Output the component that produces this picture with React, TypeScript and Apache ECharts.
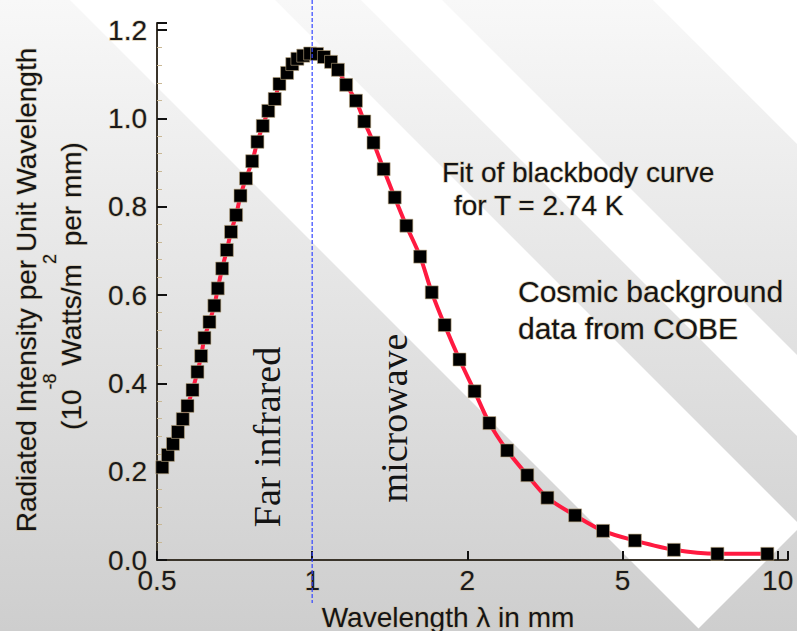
import React, { useEffect, useRef } from 'react';
import * as echarts from 'echarts';

// ---------- data ----------
const tickWavelengths = [0.5, 1, 2, 5, 10];
const tickLabels = ['0.5', '1', '2', '5', '10'];
const yTickLabels = ['0.0', '0.2', '0.4', '0.6', '0.8', '1.0', '1.2'];

// COBE measurements (wavelength in mm, intensity in 1e-8 W/m^2 per mm)
const wavelengthsMm = [
  0.512, 0.525, 0.537, 0.549, 0.561, 0.573, 0.586, 0.599, 0.609, 0.618,
  0.632, 0.646, 0.656, 0.669, 0.683, 0.696, 0.712, 0.726, 0.744, 0.765,
  0.783, 0.802, 0.822, 0.846, 0.864, 0.894, 0.915, 0.936, 0.961, 0.991,
  1.022, 1.054, 1.088, 1.122, 1.164, 1.216, 1.262, 1.315, 1.376, 1.446,
  1.523, 1.62, 1.706, 1.807, 1.931, 2.087, 2.278, 2.53, 2.85, 3.209,
  3.779, 4.457, 5.284, 6.29, 7.639, 9.547,
];
const intensities = [
  0.21, 0.238, 0.263, 0.29, 0.319, 0.349, 0.385, 0.426, 0.462, 0.503,
  0.539, 0.576, 0.615, 0.66, 0.702, 0.743, 0.781, 0.825, 0.864, 0.903,
  0.947, 0.983, 1.017, 1.044, 1.078, 1.103, 1.123, 1.135, 1.142, 1.147,
  1.146, 1.139, 1.128, 1.11, 1.076, 1.04, 0.993, 0.945, 0.885, 0.821,
  0.757, 0.687, 0.606, 0.532, 0.454, 0.382, 0.31, 0.248, 0.192, 0.141,
  0.101, 0.066, 0.044, 0.023, 0.014, 0.014,
];

const boundaryWavelength = 1;
const yTitleLine1 = 'Radiated Intensity per Unit Wavelength';
const yTitleLine2 = [
  { text: '(10', sup: false },
  { text: '-8', sup: true },
  { text: ' Watts/m', sup: false },
  { text: '2', sup: true },
  { text: ' per mm)', sup: false },
];
const xTitle = 'Wavelength \u03bb in mm';
const fitNote = ['Fit of blackbody curve', 'for T = 2.74 K'];
const dataNote = ['Cosmic background', 'data from COBE'];
const regionLabels = ['Far infrared', 'microwave'];

const SANS = '"Liberation Sans", Arial, Helvetica, sans-serif';
const SERIF = '"Liberation Serif", "Times New Roman", Times, serif';
const HALO = 'rgba(200,178,136,0.55)';

// axis scale: ticks 0.5,1,2,5,10 equally spaced, log interpolation between ticks
function toAxis(l: number): number {
  const n = tickWavelengths.length;
  for (let i = 0; i < n - 1; i++) {
    const a = tickWavelengths[i];
    const b = tickWavelengths[i + 1];
    if (l <= b || i === n - 2) return i + Math.log(l / a) / Math.log(b / a);
  }
  return 0;
}

function measure(text: string, font: string): number {
  const c = document.createElement('canvas').getContext('2d');
  if (!c) return text.length * 14;
  c.font = font;
  return c.measureText(text).width;
}

export default function App() {
  const ref = useRef<HTMLDivElement>(null);

  useEffect(() => {
    if (!ref.current) return;
    const chart = echarts.init(ref.current, undefined, { renderer: 'svg' });

    // y title, second line with superscripts
    const normalFont = `28px ${SANS}`;
    const supFont = `18px ${SANS}`;
    const widths = yTitleLine2.map((p) => measure(p.text, p.sup ? supFont : normalFont));
    const total = widths.reduce((a, b) => a + b, 0);
    const centerY = 286;
    let offset = 0;
    const line2Els = yTitleLine2.map((p, i) => {
      const el = {
        type: 'text',
        silent: true,
        x: p.sup ? 50 : 71,
        y: centerY + total / 2 - offset,
        rotation: Math.PI / 2,
        z: 20,
        style: {
          text: p.text,
          fontSize: p.sup ? 18 : 28,
          fontFamily: SANS,
          fill: '#141414',
          stroke: HALO,
          lineWidth: 1.5,
          align: 'left',
          verticalAlign: 'middle',
        },
      };
      offset += widths[i];
      return el;
    });

    const textEl = (id: string, text: string, x: number, y: number, size: number, family: string, align: string, rotation = 0) => ({
      type: 'text',
      id,
      silent: true,
      x,
      y,
      rotation,
      z: 20,
      style: {
        text,
        fontSize: size,
        fontFamily: family,
        fill: '#141414',
        stroke: family === SANS ? HALO : undefined,
        lineWidth: family === SANS ? 1.5 : 0,
        align,
        verticalAlign: 'middle',
      },
    });

    const option: any = {
      animation: false,
      backgroundColor: new echarts.graphic.LinearGradient(0, 0, 0, 1, [
        { offset: 0, color: '#f8f8f8' },
        { offset: 1, color: '#cecece' },
      ]),
      grid: { left: 157, right: 2, top: 23, bottom: 71, containLabel: false },
      xAxis: {
        type: 'value',
        min: 0,
        max: 4.064,
        interval: 1,
        axisLine: { show: true, onZero: false, lineStyle: { color: '#3a342a', width: 2 } },
        axisTick: { show: true, inside: true, length: 9, lineStyle: { color: '#111', width: 2 } },
        axisLabel: {
          margin: 6,
          fontSize: 28,
          fontFamily: SANS,
          color: '#1a1a1a',
          textBorderColor: HALO,
          textBorderWidth: 1.5,
          formatter: (v: number) => {
            const i = Math.round(v);
            return Math.abs(v - i) < 1e-6 && tickLabels[i] !== undefined ? tickLabels[i] : '';
          },
        },
        splitLine: { show: false },
      },
      yAxis: {
        type: 'value',
        min: 0,
        max: 1.216,
        interval: 0.2,
        axisLine: { show: true, onZero: false, lineStyle: { color: '#3a342a', width: 2 } },
        axisTick: { show: true, inside: true, length: 10, lineStyle: { color: '#111', width: 2 } },
        minorTick: { show: true, splitNumber: 5, length: 5, lineStyle: { color: '#c9b896', width: 1 } },
        axisLabel: {
          margin: 10,
          fontSize: 28,
          fontFamily: SANS,
          color: '#1a1a1a',
          textBorderColor: HALO,
          textBorderWidth: 1.5,
          formatter: (v: number) => {
            const i = Math.round(v / 0.2);
            return Math.abs(v - i * 0.2) < 1e-6 && yTickLabels[i] !== undefined ? yTickLabels[i] : '';
          },
        },
        splitLine: { show: false },
      },
      series: [
        {
          type: 'line',
          data: wavelengthsMm.map((l, i) => [toAxis(l), intensities[i]]),
          smooth: 0.3,
          symbol: 'rect',
          symbolSize: 13,
          itemStyle: { color: '#000', borderColor: 'rgba(190,168,128,0.6)', borderWidth: 1 },
          lineStyle: { color: '#ff1a40', width: 4 },
          z: 3,
        },
      ],
      graphic: {
        elements: [
          { type: 'polygon', id: 'w1', silent: true, z: -10, shape: { points: [[70, 0], [275, 0], [797, 522], [797, 530], [698.5, 628.5]] }, style: { fill: '#ffffff' } },
          { type: 'polygon', id: 'w2', silent: true, z: -10, shape: { points: [[361, 0], [442, 0], [797, 355], [797, 436]] }, style: { fill: '#ffffff' } },
          { type: 'polygon', id: 'w3', silent: true, z: -10, shape: { points: [[653, 0], [797, 0], [797, 144]] }, style: { fill: '#ffffff' } },
          textEl('yt1', yTitleLine1, 26, 290, 28, SANS, 'center', Math.PI / 2),
          ...line2Els,
          textEl('xt', xTitle, 448, 617, 28, SANS, 'center'),
          textEl('fit1', fitNote[0], 442, 172, 28, SANS, 'left'),
          textEl('fit2', fitNote[1], 454, 205, 28, SANS, 'left'),
          textEl('cb1', dataNote[0], 518, 291, 30, SANS, 'left'),
          textEl('cb2', dataNote[1], 518, 328, 30, SANS, 'left'),
          textEl('far', regionLabels[0], 267, 437, 38, SERIF, 'center', Math.PI / 2),
          textEl('mw', regionLabels[1], 394, 418, 38, SERIF, 'center', Math.PI / 2),
        ],
      },
    };

    chart.setOption(option);

    const px = chart.convertToPixel({ xAxisIndex: 0 }, toAxis(boundaryWavelength)) as number;
    chart.setOption({
      graphic: {
        elements: [
          {
            type: 'line',
            id: 'dash',
            silent: true,
            z: 15,
            shape: { x1: px, y1: 0, x2: px, y2: 603 },
            style: { stroke: '#3346ff', lineWidth: 1.2, lineDash: [4, 2] },
          },
        ],
      },
    });

    return () => chart.dispose();
  }, []);

  return (
    <div
      ref={ref}
      style={{ position: 'fixed', left: 0, top: 0, width: 797, height: 631 }}
    />
  );
}
